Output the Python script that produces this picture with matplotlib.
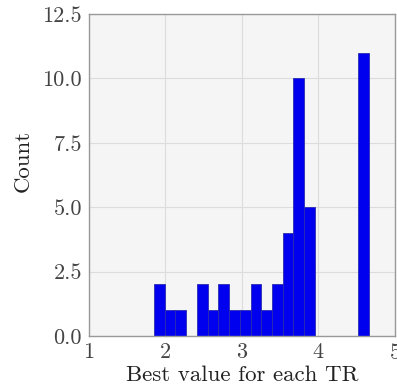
import matplotlib
matplotlib.use("Agg")
import matplotlib.pyplot as plt
import numpy as np

plt.rcParams.update({
    "font.family": "serif",
    "font.serif": ["cmr10"],
    "mathtext.fontset": "cm",
    "axes.formatter.use_mathtext": True,
    "font.size": 16,
})

# histogram of best value per TR (20 bins between min and max)
value_min = 1.85
value_max = 4.655
counts = [2, 1, 1, 0, 2, 1, 2, 1, 1, 2, 1, 2, 4, 10, 5, 0, 0, 0, 0, 11]
x_ticks = [1, 2, 3, 4, 5]
y_ticks = [0.0, 2.5, 5.0, 7.5, 10.0, 12.5]

edges = np.linspace(value_min, value_max, len(counts) + 1)

fig = plt.figure(figsize=(3.97, 3.92), dpi=100)
ax = fig.add_axes([0.224, 0.143, 0.771, 0.821])
ax.set_facecolor("#f5f5f5")
ax.grid(True, color="#dcdcdc", linewidth=0.8)
ax.set_axisbelow(True)

ax.bar(edges[:-1], counts, width=np.diff(edges), align="edge",
       color="#0000ee", edgecolor="#2a2ab0", linewidth=0.6)

ax.set_xlim(1, 5)
ax.set_ylim(0, 12.5)
ax.set_xticks(x_ticks)
ax.set_yticks(y_ticks)
ax.set_yticklabels([f"{v:.1f}" for v in y_ticks])
ax.tick_params(length=0, pad=5, labelsize=16, colors="#444444")
for s in ax.spines.values():
    s.set_color("#999999")
    s.set_linewidth(1.0)

ax.set_xlabel("Best value for each TR", fontsize=16.5, labelpad=2, color="#222222")
ax.set_ylabel("Count", fontsize=16.5, color="#222222")
ax.yaxis.set_label_coords(-0.183, 0.543)

fig.savefig("out.png", dpi=100)
